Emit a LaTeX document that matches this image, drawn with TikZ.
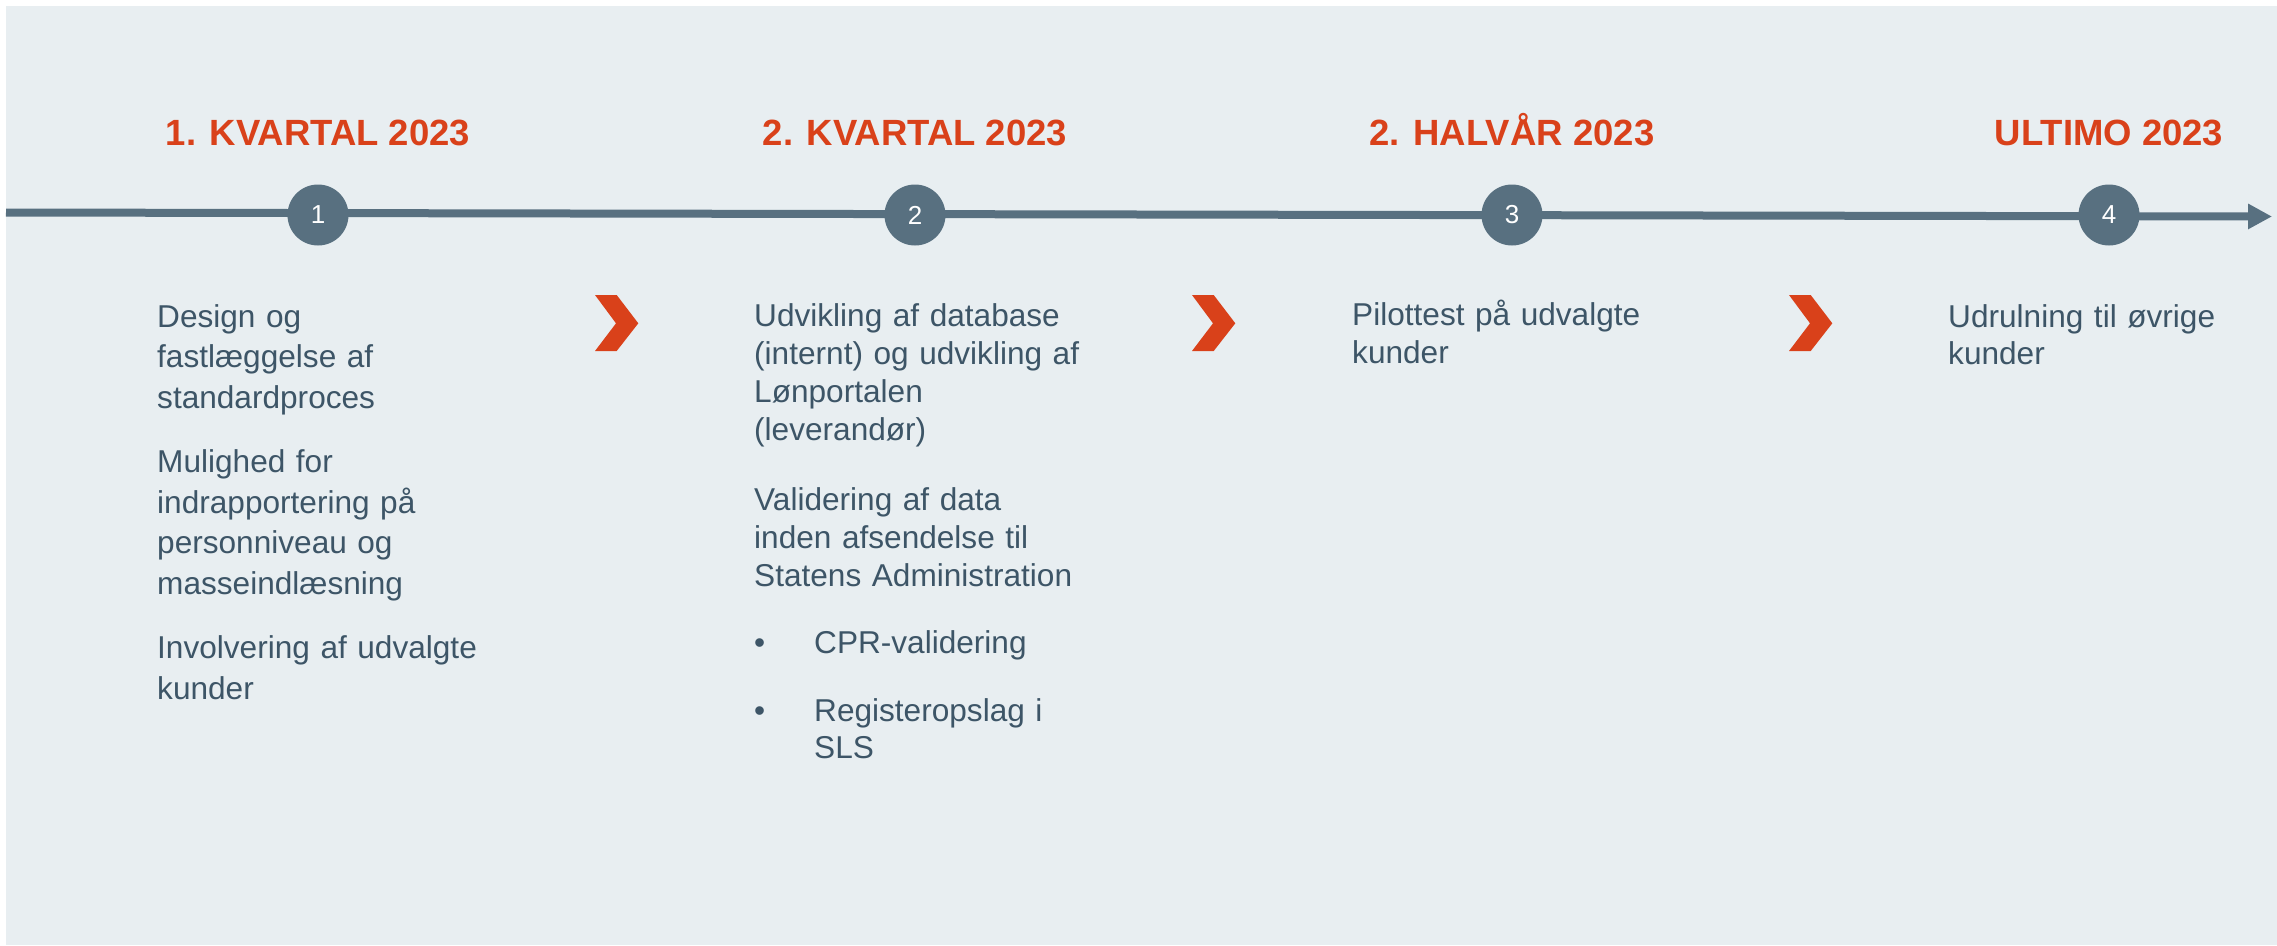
\documentclass[tikz,border=0pt]{standalone}
\usepackage{fontspec}
\setmainfont{Liberation Sans}
\usetikzlibrary{arrows.meta}
\definecolor{bgc}{HTML}{E8EEF1}
\definecolor{slate}{HTML}{587080}
\definecolor{txt}{HTML}{3D5567}
\definecolor{orng}{HTML}{D9411A}
\begin{document}
\begin{tikzpicture}[x=1pt,y=-1pt,
  heading/.style={text=orng, font=\bfseries\fontsize{36.5}{44}\selectfont, anchor=base, inner sep=0pt},
  stepnum/.style={circle, fill=slate, minimum size=61pt, inner sep=0pt, text=white, font=\fontsize{26}{30}\selectfont},
  body/.style={text=txt, anchor=base west, inner sep=0pt, align=left, text width=420pt},
  chev/.style={fill=orng, draw=none},
  timeline/.style={slate, line width=8pt, -{Triangle[length=24pt,width=24pt]}}]
\useasboundingbox (0,0) rectangle (2277,945);
\fill[white] (0,0) rectangle (2277,945);
\fill[bgc] (6,6) rectangle (2277,945);
% timeline
\coordinate (start) at (6,212.5);
\coordinate (end) at (2272,216.5);
\draw[timeline] (start) -- (end);
% step markers
\node[stepnum] (s1) at (318,215) {1};
\node[stepnum] (s2) at (915,215) {2};
\node[stepnum] (s3) at (1512,215) {3};
\node[stepnum] (s4) at (2109,215) {4};
% headings
\node[heading] (h1) at (318,145) {1. KVARTAL 2023};
\node[heading] (h2) at (915,145) {2. KVARTAL 2023};
\node[heading] (h3) at (1512,145) {2. HALVÅR 2023};
\node[heading] (h4) at (2109,145) {ULTIMO 2023};
% chevrons
\foreach \cx in {595,1192,1789}
  \fill[chev, shift={(\cx,295)}] (0,0) -- (21.7,0) -- (43.3,28.3) -- (21.7,56) -- (0,56) -- (21,28.3) -- cycle;
% texts
\node[body, font=\fontsize{31.6}{40.5}\selectfont] (c1) at (157,327)
  {Design og\\fastlæggelse af\\standardproces\\[24pt]Mulighed for\\indrapportering på\\personniveau og\\masseindlæsning\\[24pt]Involvering af udvalgte\\kunder};
\node[body, font=\fontsize{31.6}{38}\selectfont] (c2) at (754,326)
  {Udvikling af database\\(internt) og udvikling af\\Lønportalen\\(leverandør)\\[32pt]Validering af data\\inden afsendelse til\\Statens Administration\\[29pt]\makebox[60pt][l]{•}CPR-validering\\[30.7pt]\makebox[60pt][l]{•}Registeropslag i\\[-1.7pt]\hspace*{60pt}SLS};
\node[body, font=\fontsize{31.6}{38}\selectfont] (c3) at (1352,325)
  {Pilottest på udvalgte\\kunder};
\node[body, font=\fontsize{31.6}{37}\selectfont] (c4) at (1948,327)
  {Udrulning til øvrige\\kunder};
\end{tikzpicture}
\end{document}
